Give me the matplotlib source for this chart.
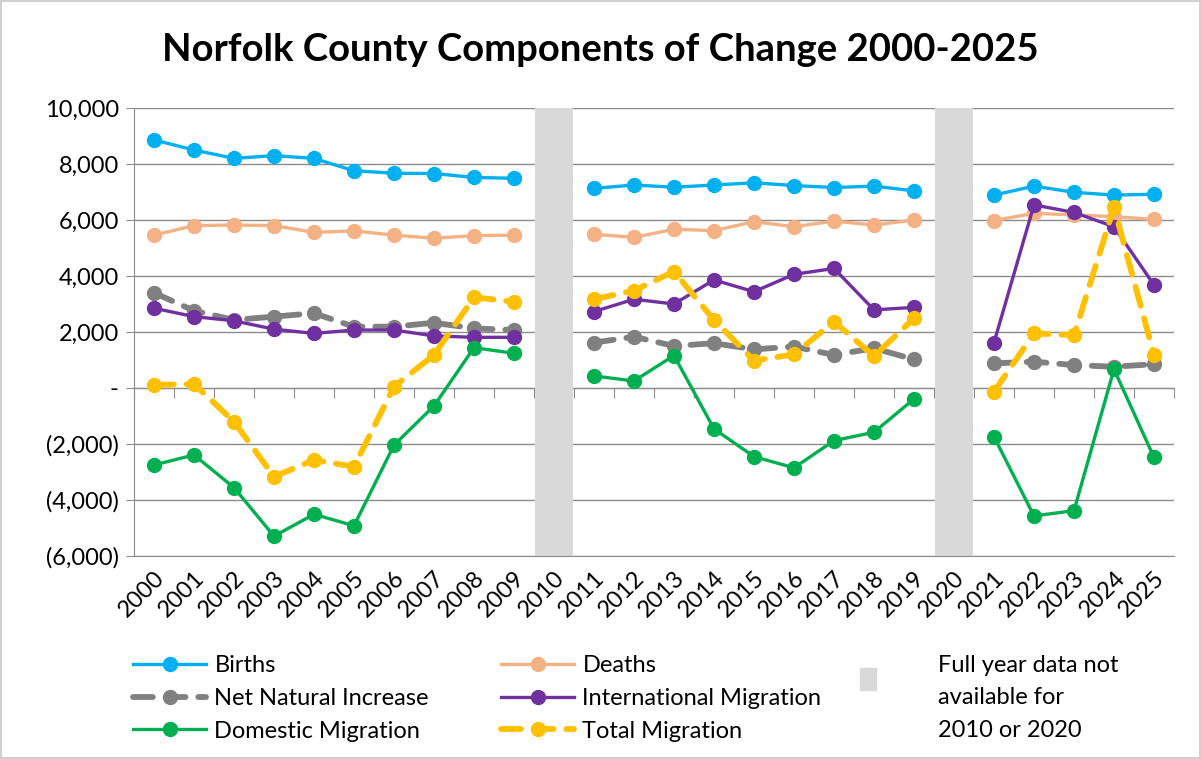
import numpy as np
import matplotlib.pyplot as plt
from matplotlib.patches import Rectangle
from matplotlib.ticker import FuncFormatter

plt.rcParams['font.family'] = ['Lato', 'DejaVu Sans']

nan = np.nan
years = [str(y) for y in range(2000, 2026)]
gap_years = ['2010', '2020']

births = [8860, 8500, 8200, 8300, 8200, 7760, 7670, 7660, 7520, 7490, nan,
          7130, 7250, 7170, 7250, 7330, 7230, 7160, 7210, 7040, nan,
          6890, 7210, 6990, 6890, 6920]
deaths = [5460, 5800, 5820, 5800, 5560, 5610, 5460, 5350, 5440, 5460, nan,
          5490, 5380, 5670, 5620, 5940, 5760, 5960, 5820, 6000, nan,
          5980, 6240, 6180, 6120, 6020]
net_natural = [3400, 2760, 2430, 2550, 2670, 2190, 2190, 2330, 2130, 2070, nan,
               1620, 1830, 1500, 1600, 1380, 1480, 1180, 1420, 1020, nan,
               880, 940, 820, 760, 850]
international = [2850, 2550, 2400, 2100, 1950, 2070, 2070, 1860, 1810, 1810, nan,
                 2730, 3170, 3000, 3860, 3440, 4060, 4270, 2790, 2880, nan,
                 1620, 6540, 6270, 5760, 3680]
domestic = [-2750, -2390, -3560, -5290, -4510, -4920, -2040, -640, 1440, 1240, nan,
            430, 250, 1160, -1460, -2450, -2850, -1880, -1580, -390, nan,
            -1740, -4570, -4380, 670, -2480]
total = [110, 140, -1200, -3170, -2570, -2810, 50, 1180, 3240, 3080, nan,
         3170, 3480, 4160, 2430, 980, 1200, 2370, 1140, 2490, nan,
         -130, 1950, 1890, 6450, 1180]

y_min, y_max = -6000, 10000

fig = plt.figure(figsize=(12.01, 7.59), dpi=100)
fig.patch.set_edgecolor('#d0d0d0')
fig.patch.set_linewidth(1.5)
ax = fig.add_axes([134 / 1201, 1 - 556 / 759, 1040 / 1201, 448 / 759])

x = np.arange(len(years))

# grey bars for years without full data
gap_idx = [years.index(g) for g in gap_years]
ax.bar(gap_idx, [y_max - y_min] * len(gap_idx), bottom=y_min, width=0.97,
       color='#d9d9d9', zorder=1.5)

solid = dict(lw=2.4, marker='o', markersize=10, zorder=3)
dashed = dict(lw=4.2, marker='o', markersize=10, zorder=3,
              linestyle=(0, (3.4, 2.2)), dash_capstyle='round')

series = [
    ('Births', births, '#00b0f0', solid),
    ('Net Natural Increase', net_natural, '#808080', dashed),
    ('Domestic Migration', domestic, '#00b050', solid),
    ('Deaths', deaths, '#f4b183', solid),
    ('International Migration', international, '#7030a0', solid),
    ('Total Migration', total, '#ffc000', dashed),
]
draw_order = ['Births', 'Deaths', 'Net Natural Increase', 'International Migration',
              'Domestic Migration', 'Total Migration']
handles = {}
for name in draw_order:
    for label, vals, col, style in series:
        if label == name:
            h, = ax.plot(x, vals, color=col, label=label, **style)
            handles[label] = h

ax.set_xlim(-0.5, len(years) - 0.5)
ax.set_ylim(y_min, y_max)
ax.set_yticks(np.arange(y_min, y_max + 1, 2000))


def fmt(v, pos):
    if v == 0:
        return '-'
    if v < 0:
        return '({:,.0f})'.format(-v)
    return '{:,.0f}'.format(v)


ax.yaxis.set_major_formatter(FuncFormatter(fmt))
ax.tick_params(axis='y', labelsize=17, length=6, color='#8c8c8c', pad=5)
ax.grid(axis='y', color='#8c8c8c', lw=1)
ax.set_axisbelow(True)

ax.set_xticks(x)
ax.set_xticklabels(years, rotation=45, ha='right', rotation_mode='anchor')
ax.tick_params(axis='x', labelsize=17, length=0, pad=8)

for s in ['top', 'right']:
    ax.spines[s].set_visible(False)
ax.spines['left'].set_color('#8c8c8c')
ax.spines['bottom'].set_color('#8c8c8c')

# category axis crossing at zero
sec = ax.secondary_xaxis(0, transform=ax.transData)
sec.set_xticks(np.arange(-0.5, len(years), 1.0))
sec.set_xticklabels([])
sec.tick_params(axis='x', length=7, color='#8c8c8c', direction='out')
sec.spines['bottom'].set_color('#8c8c8c')

fig.text(0.5, 1 - 50 / 759, 'Norfolk County Components of Change 2000-2025',
         ha='center', va='center', fontsize=27.5, fontweight='bold')

leg_names = ['Births', 'Net Natural Increase', 'Domestic Migration',
             'Deaths', 'International Migration', 'Total Migration']
leg = fig.legend([handles[n] for n in leg_names], leg_names, ncol=2,
                 loc='upper left', frameon=False, fontsize=17, handlelength=3.1,
                 labelspacing=0.5, columnspacing=3.05, handletextpad=0.35,
                 borderaxespad=0, borderpad=0)
leg.set_bbox_to_anchor((133 / 1201, 1 - 655 / 759), transform=fig.transFigure)

fig.patches.append(Rectangle((860 / 1201, 1 - 690 / 759), 16 / 1201, 22 / 759,
                             transform=fig.transFigure, color='#d9d9d9'))
fig.text(938 / 1201, 1 - 698 / 759, 'Full year data not\navailable for\n2010 or 2020',
         ha='left', va='center', fontsize=17, linespacing=1.68)

fig.savefig('out.png', dpi=100)
